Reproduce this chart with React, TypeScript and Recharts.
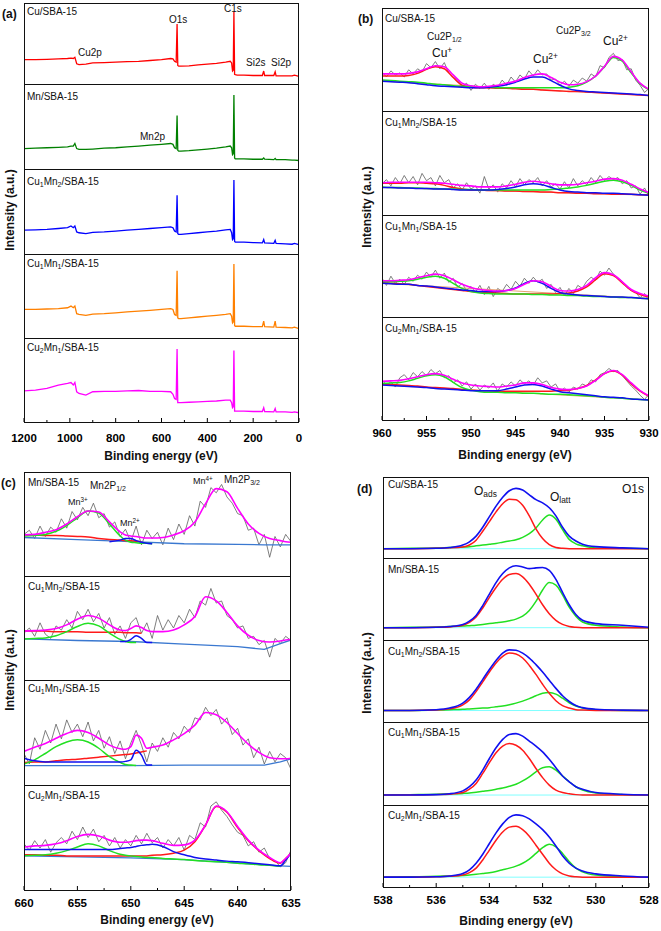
import React from 'react';
import { LineChart, Line, XAxis, YAxis } from 'recharts';

const FONT = '"Liberation Sans", Arial, sans-serif';
const AXIS_H = 30;
const TICK_GAP = 2;
const PAD = 18;

// ---------- (a) survey spectra ----------
const surveyX = [1200, 1150, 1100, 1050, 1010, 995, 985, 978, 970, 960, 930, 900, 850, 800, 750, 700, 650, 600, 560, 550, 543, 536, 532, 529, 525, 515, 480, 440, 400, 360, 320, 300, 294, 290, 287, 284, 281, 278, 270, 240, 200, 160, 154, 150, 110, 104, 100, 60, 30, 20, 0];
const surveyCu = [30, 30, 30.5, 31, 31.5, 32, 31.5, 33, 25, 24, 24.5, 26, 26.5, 27, 27.5, 28, 29, 30, 31.5, 31, 28, 27, 74, 23, 22, 22, 22.5, 23.5, 24.5, 25.5, 27, 28, 26, 16, 17, 89, 12, 11.5, 11, 11, 10.5, 10.5, 16, 10.5, 10.5, 15, 10, 10, 10, 11, 9.5];
const surveyMn = [24, 24.5, 25, 25.5, 26, 27, 27, 30, 24, 23, 23, 23.5, 24.5, 25, 26, 27, 28, 29, 30, 29, 25, 24, 63, 22, 21, 21, 21.5, 22.5, 23.5, 24.5, 26, 27, 25, 17, 18, 87, 13, 12, 12, 12, 11.5, 11.5, 13, 11.5, 11, 12.5, 11, 11, 10.5, 10.5, 10];
const surveyCu1Mn2 = [28, 28.5, 29, 30, 31, 33, 31, 33, 26, 25, 24, 25.5, 26, 27, 28, 29, 30, 31, 32, 31, 27, 26, 69, 24, 23, 23, 24, 25, 26, 27, 28.5, 29, 25, 17, 18, 87, 15, 14, 14, 14, 13.5, 13, 17, 13, 12.5, 16, 12.5, 12, 11.5, 12.5, 11];
const surveyCu1Mn1 = [34, 34, 34.5, 35, 36, 38, 36, 38, 29, 28, 27, 28.5, 29, 30, 31, 32, 33, 34, 35, 34, 28, 27, 80, 24, 23, 23, 24, 25, 26, 27, 28, 29, 26, 18, 19, 88, 15, 14, 14, 14, 13.5, 13.5, 20, 13.5, 13, 20, 13, 12.5, 12, 13, 11];
const surveyCu2Mn1 = [37, 38, 40, 44, 46, 47, 44, 47, 36, 34, 32, 36, 36.5, 36.5, 37, 37.5, 36.5, 36.5, 36, 33, 28, 27, 87, 23, 23, 23, 23.5, 24, 24.5, 25, 26, 26, 23, 17, 18, 85, 13, 13, 13, 13, 12.5, 12.5, 17, 12.5, 12, 16, 12, 12, 11.5, 12, 11];
const surveyTicks = [0, 100, 200, 300, 400, 500, 600, 700, 800, 900, 1000, 1100, 1200];
const surveyMajors = [0, 200, 400, 600, 800, 1000, 1200];

// ---------- (b) Cu 2p ----------
const cuFitX = [960, 959, 958, 957, 956, 955, 954, 953, 952, 951, 950, 949, 948, 947, 946, 945, 944, 943, 942, 941, 940, 939, 938, 937, 936, 935, 934, 933, 932, 931, 930];
const cuRawX = [960, 959.5, 959, 958.5, 958, 957.5, 957, 956.5, 956, 955.5, 955, 954.5, 954, 953.5, 953, 952.5, 952, 951.5, 951, 950.5, 950, 949.5, 949, 948.5, 948, 947.5, 947, 946.5, 946, 945.5, 945, 944.5, 944, 943.5, 943, 942.5, 942, 941.5, 941, 940.5, 940, 939.5, 939, 938.5, 938, 937.5, 937, 936.5, 936, 935.5, 935, 934.5, 934, 933.5, 933, 932.5, 932, 931.5, 931, 930.5, 930];
const cuBaseX = [960, 930];

const cuRaw1 = [38, 33, 39, 35, 37, 33, 40, 36, 41, 38, 46, 42, 48, 41, 47, 37, 33, 30, 24, 27, 20, 26, 22, 27, 21, 26, 23, 30, 25, 33, 28, 35, 31, 39, 34, 40, 35, 36, 30, 31, 25, 29, 24, 30, 27, 32, 29, 36, 33, 44, 42, 52, 56, 49, 50, 40, 41, 30, 25, 18, 22];
const cuPink1 = [36, 36, 36, 36.5, 38, 41, 44, 43, 35, 27, 24.5, 23.5, 24, 25, 27, 29, 32.5, 35, 36, 32.5, 28, 25.5, 26, 28.5, 34, 43.5, 53, 49.5, 38, 27, 21];
const cuRed1 = [34, 34, 34, 34.5, 36.5, 40.5, 43, 41, 32.5, 25, 23, 22.5, 22.5, 22, 22, 21.5, 21, 21, 20.5, 20, 19.5, 19, 19, 18.5, 18, 17.5, 17, 16.5, 16, 15.5, 15];
const cuGreen1 = [30, 29.5, 29, 28.5, 28, 27, 26, 25.5, 24.5, 24, 23.5, 23, 23, 22.5, 22.5, 22.5, 22.5, 22.5, 22.5, 22.5, 22.5, 23, 24.5, 28, 34, 43, 52, 48.5, 37, 26.5, 20.5];
const cuBlue1 = [29, 28.5, 28, 27.5, 26.5, 25.5, 24.5, 24, 23.5, 23, 22.5, 22.5, 23, 24, 25.5, 28, 31, 33, 33, 29.5, 25, 21.5, 20, 19, 18.5, 18, 17.5, 17, 16.5, 16, 15];
const cuBase1 = [29, 15];

const cuRaw2 = [30, 34, 28, 36, 30, 38, 31, 37, 29, 40, 33, 36, 28, 38, 31, 34, 26, 30, 24, 31, 25, 28, 21, 37, 25, 29, 22, 30, 26, 33, 27, 35, 29, 34, 31, 36, 28, 33, 27, 30, 25, 32, 26, 35, 28, 33, 29, 36, 31, 38, 33, 37, 34, 36, 30, 33, 26, 28, 20, 26, 18];
const cuPink2 = [31, 31.5, 31.5, 31.5, 31.5, 31.5, 31, 30.5, 29.5, 28.5, 28, 27, 27, 27, 28, 29.5, 31.5, 32.5, 31.5, 30, 29, 29, 29.5, 31, 32.5, 34.5, 35, 33.5, 29.5, 25, 21.5];
const cuRed2 = [30.5, 30.5, 30.5, 31, 31, 30.5, 30, 28.5, 26.5, 25, 24, 24, 23.5, 23.5, 23, 23, 22.5, 22.5, 22, 22, 21.5, 21.5, 21, 21, 20.5, 20.5, 20, 20, 20, 19.5, 19.5];
const cuGreen2 = [27, 26.5, 26.5, 26, 26, 25.5, 25.5, 25, 25, 24.5, 24.5, 24, 24, 24, 24, 24, 24, 24, 24, 24.5, 25, 26, 27, 28.5, 30.5, 32.5, 33.5, 32, 28.5, 24, 21];
const cuBlue2 = [26.5, 26.5, 26, 26, 25.5, 25.5, 25, 25, 24.5, 24, 24, 24, 24, 24.5, 25.5, 27, 29, 30, 29, 26.5, 24, 22.5, 22, 21.5, 21.5, 21, 21, 20.5, 20, 19.5, 19];
const cuBase2 = [26.5, 19];

const cuRaw3 = [38, 31, 40, 33, 37, 32, 39, 35, 41, 37, 44, 39, 46, 38, 43, 34, 38, 29, 33, 26, 30, 24, 31, 22, 30, 20, 28, 25, 32, 27, 35, 30, 38, 33, 39, 34, 37, 28, 32, 24, 29, 21, 28, 23, 31, 28, 35, 39, 36, 45, 41, 48, 42, 38, 35, 29, 26, 24, 19, 23, 16];
const cuPink3 = [35.5, 35.5, 36, 36.5, 38.5, 40.5, 42, 40.5, 36.5, 32, 29, 27, 26, 25.5, 26, 28, 32, 35.5, 34.5, 30, 26, 25.5, 27, 31, 38.5, 43.5, 41.5, 34.5, 27, 23, 20.5];
const cuRed3 = [33.5, 33, 32.5, 32, 31, 30, 29, 28, 27, 26, 25, 24.5, 24, 23.5, 23, 22.5, 22.5, 22.5, 22.5, 22.5, 23, 23.5, 25.5, 29.5, 36.5, 42.5, 40.5, 33.5, 26, 22, 19.5];
const cuGreen3 = [34.5, 34.5, 35, 35.5, 37, 39, 40, 38, 33, 28, 25, 23.5, 23, 22.5, 22.5, 22.5, 22.5, 22, 22, 21.5, 21.5, 21, 21, 20.5, 20, 20, 19.5, 19, 19, 18.5, 18];
const cuBlue3 = [33, 32.5, 32, 32, 31, 30.5, 29.5, 28.5, 27.5, 26.5, 26, 25, 25, 25, 26, 28.5, 33, 35.5, 33, 28, 24, 22.5, 21.5, 21, 20.5, 20, 19.5, 19.5, 19, 18.5, 18];
const cuBase3 = [33, 18];

const cuRaw4 = [39, 34, 37, 32, 41, 44, 39, 46, 42, 47, 43, 49, 45, 48, 41, 43, 36, 39, 33, 37, 30, 35, 29, 34, 31, 36, 28, 35, 32, 37, 33, 39, 35, 38, 34, 41, 36, 38, 32, 35, 28, 31, 27, 32, 30, 35, 33, 39, 37, 44, 46, 50, 47, 48, 43, 38, 33, 29, 24, 20, 25];
const cuPink4 = [37.5, 38, 38.5, 40, 42, 44, 45, 43.5, 39.5, 36, 34, 33, 32.5, 32, 33, 34, 36, 36, 34.5, 31.5, 30, 29.5, 30.5, 33, 38.5, 45, 48, 44, 36, 28.5, 23.5];
const cuRed4 = [35, 34.5, 34, 33.5, 33, 32, 31.5, 31, 30.5, 29.5, 29, 28.5, 28.5, 28, 28, 28, 28, 28, 28, 28, 28.5, 29, 30.5, 33.5, 39, 45, 47.5, 43.5, 35, 28, 23];
const cuGreen4 = [35.5, 36, 36.5, 38, 40.5, 43, 44, 42, 36.5, 31.5, 29, 27.5, 27, 27, 26.5, 26.5, 26, 26, 25.5, 25, 25, 24.5, 24, 23.5, 23, 22, 21.5, 21, 20.5, 20, 19.5];
const cuBlue4 = [34, 33.5, 33, 32.5, 32, 31.5, 30.5, 30, 29.5, 29, 28.5, 28.5, 28.5, 28.5, 30, 32, 34, 34.5, 33, 30, 27.5, 26.5, 25.5, 24.5, 23.5, 22.5, 22, 21.5, 20.5, 20, 19.5];
const cuBase4 = [34, 19.5];

const cuTicks = [930, 932.5, 935, 937.5, 940, 942.5, 945, 947.5, 950, 952.5, 955, 957.5, 960];
const cuMajors = [930, 935, 940, 945, 950, 955, 960];

// ---------- (c) Mn 2p ----------
const mnFitX = [660, 659, 658, 657, 656, 655, 654, 653, 652, 651, 650.5, 650, 649.5, 649, 648.5, 648, 647, 646, 645, 644, 643, 642, 641, 640, 639, 638, 637, 636, 635.5, 635];
const mnRawX = [660, 659.5, 659, 658.5, 658, 657.5, 657, 656.5, 656, 655.5, 655, 654.5, 654, 653.5, 653, 652.5, 652, 651.5, 651, 650.5, 650, 649.5, 649, 648.5, 648, 647.5, 647, 646.5, 646, 645.5, 645, 644.5, 644, 643.5, 643, 642.5, 642, 641.5, 641, 640.5, 640, 639.5, 639, 638.5, 638, 637.5, 637, 636.5, 636, 635.5, 635];
const mnBaseX = [660, 655, 650, 645, 640, 637.5, 636, 635];
const _ = null;

const mnRaw1 = [40, 44, 36, 48, 38, 47, 42, 55, 46, 62, 54, 66, 58, 70, 56, 60, 47, 52, 38, 45, 33, 48, 30, 44, 36, 42, 30, 46, 35, 50, 40, 58, 48, 72, 66, 85, 80, 88, 76, 70, 60, 58, 44, 46, 30, 40, 18, 38, 28, 40, 33];
const mnPink1 = [39.5, 40, 42, 44.5, 50, 57, 62.5, 61.5, 52, 42.5, 39.5, 38.5, 38, 37, 36.5, 36.5, 37, 39.5, 43.5, 52, 69.5, 84, 81, 65, 50, 41, 36, 34, 33, 32.5];
const mnGreen1 = [38.5, 39, 40, 43, 48.5, 56, 62.5, 60.5, 50, 38.5, 34.5, 32.5, 32, 31.5, 31.5, 31, _, _, _, _, _, _, _, _, _, _, _, _, _, _];
const mnRed1 = [39.5, 39.5, 39, 39, 38.5, 38, 37.5, 36, 35, 34.5, 34, 34, 33.5, 33, _, _, _, _, _, _, _, _, _, _, _, _, _, _, _, _];
const mnBlue1 = [_, _, _, _, _, _, _, _, 33, 34.5, 36, 36, 34, 32.5, 31.5, 31, _, _, _, _, _, _, _, _, _, _, _, _, _, _];
const mnBase1 = [37, 35, 33, 31, 30.5, 30, 30, 30];

const mnRaw2 = [45, 50, 42, 55, 44, 40, 52, 48, 58, 50, 66, 58, 68, 56, 64, 50, 60, 44, 52, 40, 55, 60, 45, 55, 40, 62, 48, 58, 50, 62, 55, 68, 60, 76, 72, 88, 74, 76, 62, 58, 50, 52, 40, 42, 34, 38, 22, 40, 35, 42, 38];
const mnPink2 = [47, 47.5, 48, 49.5, 53, 58.5, 62, 59.5, 53, 48, 47.5, 49.5, 52, 50.5, 47.5, 46.5, 46.5, 48, 53, 61, 80, 76, 65, 52, 43, 38, 36.5, 37.5, 38.5, 39];
const mnGreen2 = [39.5, 40, 40.5, 42.5, 46.5, 51.5, 54.5, 52, 45, 39, 37, 36, 36, _, _, _, _, _, _, _, _, _, _, _, _, _, _, _, _, _];
const mnRed2 = [47, 47, 47, 46.5, 46.5, 46.5, 46, 46, 46, 46, 45.5, 45.5, 45.5, 45, _, _, _, _, _, _, _, _, _, _, _, _, _, _, _, _];
const mnBlue2 = [_, _, _, _, _, _, _, _, _, 37, 37, 39, 42.5, 40, 36, 36, _, _, _, _, _, _, _, _, _, _, _, _, _, _];
const mnBase2 = [39.5, 38, 37, 34.5, 32, 29.5, 35, 38.5];

const mnRaw3 = [30, 20, 45, 34, 52, 40, 58, 44, 62, 50, 58, 46, 60, 42, 52, 35, 46, 30, 42, 25, 40, 52, 38, 22, 40, 32, 45, 36, 50, 44, 56, 50, 64, 62, 74, 66, 72, 58, 64, 48, 54, 38, 44, 26, 36, 20, 32, 22, 30, 26, 15];
const mnPink3 = [32, 36, 39.5, 44.5, 49, 52, 50, 44.5, 38, 34.5, 34, 36.5, 47.5, 44.5, 35, 36, 38, 43, 49, 57, 69, 67, 59.5, 49, 39, 31, 26, 25, 25, 25.5];
const mnGreen3 = [20, 24, 30, 36.5, 41, 43, 41, 35, 27, 21.5, 19.5, 19, 18.5, _, _, _, _, _, _, _, _, _, _, _, _, _, _, _, _, _];
const mnRed3 = [21.5, 21.8, 22, 23, 24, 24.5, 25.5, 26.5, 27.5, 28.5, 29, 29.5, 30.5, 31.5, 32.5, _, _, _, _, _, _, _, _, _, _, _, _, _, _, _];
const mnBlue3 = [25.5, 23, 22, 22, 22, 22, 22, 22, 22, 22, 22.5, 24, 33, 28.5, 19, 19, _, _, _, _, _, _, _, _, _, _, _, _, _, _];
const mnBase3 = [18.5, 18.5, 18.5, 19, 19, 19, 22, 25];

const mnRaw4 = [44, 38, 47, 40, 48, 36, 45, 50, 44, 56, 48, 60, 50, 58, 46, 52, 42, 50, 40, 48, 42, 52, 44, 54, 45, 50, 40, 48, 42, 50, 38, 52, 48, 64, 60, 80, 84, 76, 70, 62, 55, 52, 42, 46, 36, 40, 30, 28, 22, 26, 38];
const mnPink4 = [41, 42, 42.5, 44, 47, 51, 53, 51.5, 47.5, 45.5, 45.5, 46, 47, 47.5, 47.5, 47, 44.5, 42.5, 43, 47.5, 62, 80, 74.5, 60.5, 47.5, 38, 31, 26, 30, 35];
const mnGreen4 = [32.5, 33, 33.5, 35, 37.5, 41, 44, 42, 37.5, 34, 33, 32.5, 32, 31.5, 31, 31, 30, 29.5, 29, 28, 27.5, 27, 26.5, 25.5, 25, 24, 23.5, 22.5, _, _];
const mnRed4 = [33.5, 33.5, 33, 33, 32.5, 32.5, 32.5, 32.5, 32.5, 32.5, 32.5, 32.5, 32.5, 32.5, 32.5, 33, 33.5, 35, 38, 46, 62, 79.5, 74, 59.5, 47, 37.5, 30, 25.5, 30, 35];
const mnBlue4 = [38.5, 38.5, 38.5, 38.5, 38.5, 38.5, 38.5, 38.5, 38.5, 39.5, 40, 40.5, 41.5, 42.5, 43, 43.5, 41.5, 36.5, 33.5, 31, 29.5, 28.5, 27.5, 27, 26, 25, 24, 23, 28.5, 35];
const mnBase4 = [32.5, 31.5, 30.5, 29, 25.5, 24, 23, 22.5];

const mnTicks = [635, 637.5, 640, 642.5, 645, 647.5, 650, 652.5, 655, 657.5, 660];
const mnMajors = [635, 640, 645, 650, 655, 660];

// ---------- (d) O 1s ----------
const oX = [538, 537, 536, 535.5, 535, 534.75, 534.5, 534.25, 534, 533.75, 533.5, 533.25, 533, 532.75, 532.5, 532.25, 532, 531.75, 531.5, 531.25, 531, 530.75, 530.5, 530, 529, 528];
const oBaseX = [538, 528];

const oBlue1 = [11.5, 11.5, 12, 13, 16, 20, 27, 38, 51, 64, 75, 83, 86, 84, 78, 72, 68, 62, 52, 38, 27, 21, 17, 14, 12.5, 11.5];
const oRed1 = [11.5, 11.5, 12, 12.5, 13.5, 16, 22, 33, 45, 57, 67, 72.5, 72, 65, 52, 36, 24, 16.5, 13, 12, 11.5, 11.5, 11.5, 11.5, 11.5, 11.5];
const oGreen1 = [11.5, 12, 12.5, 13, 13.5, 14, 15, 16, 17, 18, 19.5, 21, 22.5, 25.5, 30, 37, 47, 53, 48, 35, 23, 17.5, 15, 12.5, 12, 11.5];
const oBase1 = [11.5, 11.5];

const oBlue2 = [15, 15, 15.5, 16.5, 19, 23, 30, 42, 56, 70, 81, 88, 90.5, 89, 87, 88, 88.5, 85, 74, 58, 43, 31, 24, 20, 18, 15.5];
const oRed2 = [15, 15, 15.5, 16, 18, 21.5, 28, 39, 52, 64, 74, 80, 81, 77, 68, 56, 43, 32, 24, 19, 16.5, 15.5, 15, 15, 15, 15];
const oGreen2 = [15, 15.5, 16, 16.5, 17, 17.5, 18, 19, 20, 21, 22, 23.5, 25.5, 29, 36, 47, 61, 70, 67, 55, 40, 29, 22, 18, 16, 15];
const oBase2 = [15, 15];

const oBlue3 = [14, 14, 15, 17, 23, 30, 40, 52, 64, 75, 84, 88, 87.5, 84, 78, 70, 61, 51, 41, 32, 25, 20, 17.5, 15.5, 14.5, 14];
const oRed3 = [14, 14, 14.5, 16, 21, 27, 37, 49, 61, 72, 80, 84, 83, 78, 69, 58, 46, 35, 26, 20, 17, 15, 14.5, 14, 14, 14];
const oGreen3 = [14, 14, 14.5, 15, 15.5, 16, 16.5, 17, 17.5, 18.5, 19.5, 21, 23, 25.5, 28.5, 32, 35, 36, 34, 29, 23.5, 19.5, 17, 15, 14, 14];
const oBase3 = [14, 14];

const oBlue4 = [12, 12, 12.5, 13.5, 17, 22, 30, 42, 56, 69, 79, 85, 86, 83, 77, 71, 64, 55, 45, 35, 28, 22, 19, 15, 13, 12];
const oRed4 = [12, 12, 12.5, 13, 15, 19, 26, 38, 51, 63, 71, 74, 72, 66, 56, 44, 33, 24, 18, 15, 13.5, 12.5, 12, 12, 12, 12];
const oGreen4 = [12, 12.5, 13, 13.5, 14, 14.5, 15.5, 16.5, 17.5, 19, 20.5, 22.5, 25, 29, 34, 40, 45, 46, 42, 35, 28, 22, 18, 14.5, 12.5, 12];
const oBase4 = [12, 12];

const oBlue5 = [12, 12, 12.5, 13.5, 16.5, 21, 29, 40, 53, 66, 77, 85, 88, 87, 83, 77, 70, 61, 50, 38, 29, 23, 19.5, 16, 13.5, 12];
const oRed5 = [12, 12, 12.5, 13, 14.5, 17.5, 23, 33, 45, 57, 67, 73, 74, 70, 62, 51, 40, 29, 21, 16, 13.5, 12.5, 12, 12, 12, 12];
const oGreen5 = [12, 12.5, 13, 13.5, 14, 14.5, 15.5, 16.5, 17.5, 19, 21, 23, 25.5, 29, 34, 41, 48, 52, 49, 41, 31, 23, 18.5, 14.5, 12.5, 12];
const oBase5 = [12, 12];

const oTicks = [528, 529, 530, 531, 532, 533, 534, 535, 536, 537, 538];
const oMajors = [528, 530, 532, 534, 536, 538];

// ---------- drawing ----------
type Ser = { xs: number[]; ys: (number | null)[]; color: string; w: number; curve?: 'linear' | 'monotone' };

const GRAY = '#5e5e5e';
const RED = '#ff1a1a';
const GREEN = '#22e022';
const BLUE = '#1010f0';
const PINK = '#ff00ff';

const pts = (xs: number[], ys: (number | null)[]) => xs.map((x, i) => ({ x, y: ys[i] }));

const cuSub = (raw: number[], base: number[], red: number[], green: number[], blue: number[], pink: number[]): Ser[] => [
  { xs: cuRawX, ys: raw, color: GRAY, w: 0.8, curve: 'linear' },
  { xs: cuBaseX, ys: base, color: '#e8a070', w: 1, curve: 'linear' },
  { xs: cuFitX, ys: red, color: RED, w: 1.5 },
  { xs: cuFitX, ys: green, color: GREEN, w: 1.5 },
  { xs: cuFitX, ys: blue, color: BLUE, w: 1.5 },
  { xs: cuFitX, ys: pink, color: PINK, w: 1.6 },
];

const mnSub = (raw: number[], base: number[], red: (number | null)[], green: (number | null)[], blue: (number | null)[], pink: number[]): Ser[] => [
  { xs: mnRawX, ys: raw, color: GRAY, w: 0.8, curve: 'linear' },
  { xs: mnBaseX, ys: base, color: '#3a78d0', w: 1.3, curve: 'linear' },
  { xs: mnFitX, ys: red, color: RED, w: 1.5 },
  { xs: mnFitX, ys: green, color: GREEN, w: 1.5 },
  { xs: mnFitX, ys: blue, color: BLUE, w: 1.5 },
  { xs: mnFitX, ys: pink, color: PINK, w: 1.6 },
];

const oSub = (base: number[], green: number[], red: number[], blue: number[]): Ser[] => [
  { xs: oBaseX, ys: base, color: '#80ffff', w: 1, curve: 'linear' },
  { xs: oX, ys: green, color: GREEN, w: 1.5 },
  { xs: oX, ys: red, color: RED, w: 1.5 },
  { xs: oX, ys: blue, color: BLUE, w: 1.6 },
];

const surveySub = (ys: number[], color: string): Ser[] => [{ xs: surveyX, ys, color, w: 1.3, curve: 'linear' }];

const axisTick = (majors: number[], labelDy: number) => (props: any) => {
  const { x, y, payload } = props;
  const v = payload.value as number;
  const isMajor = majors.some((m) => Math.abs(m - v) < 1e-6);
  const ay = y - TICK_GAP;
  return (
    <g>
      <line x1={x} x2={x} y1={ay} y2={ay - (isMajor ? 4 : 2)} stroke="#000" strokeWidth={1} />
      {isMajor && (
        <text x={x} y={ay + labelDy} textAnchor="middle" fontSize={11.5} fontWeight="bold" fontFamily={FONT} fill="#000">
          {v}
        </text>
      )}
    </g>
  );
};

type StackProps = {
  left: number;
  width: number;
  bounds: number[];
  domain: [number, number];
  ticks: number[];
  majors: number[];
  labelDy: number;
  subs: Ser[][];
};

function Stack({ left, width, bounds, domain, ticks, majors, labelDy, subs }: StackProps) {
  return (
    <>
      {subs.map((series, i) => {
        const top = bounds[i];
        const h = bounds[i + 1] - bounds[i];
        const last = i === subs.length - 1;
        const fullH = h + (last ? AXIS_H : 0);
        return (
          <div key={i} style={{ position: 'absolute', left: left - PAD, top, width: width + 2 * PAD, height: fullH }}>
            <LineChart width={width + 2 * PAD} height={fullH} margin={{ top: 0, right: PAD, bottom: 0, left: PAD }}>
              <XAxis
                type="number"
                dataKey="x"
                domain={domain}
                reversed
                allowDataOverflow
                hide={!last}
                height={AXIS_H}
                ticks={ticks}
                interval={0}
                tickLine={false}
                axisLine={false}
                tickSize={0}
                tickMargin={TICK_GAP}
                tick={axisTick(majors, labelDy)}
              />
              <YAxis type="number" domain={[0, 100]} hide allowDataOverflow />
              {series.map((s, j) => (
                <Line
                  key={j}
                  data={pts(s.xs, s.ys)}
                  dataKey="y"
                  type={s.curve || 'monotone'}
                  stroke={s.color}
                  strokeWidth={s.w}
                  dot={false}
                  activeDot={false}
                  isAnimationActive={false}
                />
              ))}
            </LineChart>
            <div
              style={{
                position: 'absolute',
                left: PAD,
                top: 0,
                width,
                height: h + 1,
                border: '1px solid #111',
                boxSizing: 'border-box',
                pointerEvents: 'none',
              }}
            />
          </div>
        );
      })}
    </>
  );
}

const T = ({ l, t, s = 10, b = false, children }: { l: number; t: number; s?: number; b?: boolean; children: React.ReactNode }) => (
  <div style={{ position: 'absolute', left: l, top: t, fontSize: s, lineHeight: 1, whiteSpace: 'nowrap', fontWeight: b ? 'bold' : 'normal' }}>
    {children}
  </div>
);

const Sb = ({ children }: { children: React.ReactNode }) => (
  <span style={{ fontSize: '0.7em', verticalAlign: '-0.25em' }}>{children}</span>
);
const Sp = ({ children }: { children: React.ReactNode }) => (
  <span style={{ fontSize: '0.7em', verticalAlign: '0.5em' }}>{children}</span>
);

const YTitle = ({ x, y }: { x: number; y: number }) => (
  <div
    style={{
      position: 'absolute',
      left: x,
      top: y,
      transform: 'translate(-50%, -50%) rotate(-90deg)',
      fontSize: 12,
      fontWeight: 'bold',
      whiteSpace: 'nowrap',
    }}
  >
    Intensity (a.u.)
  </div>
);

const XTitle = ({ x, y }: { x: number; y: number }) => (
  <div style={{ position: 'absolute', left: x, top: y, transform: 'translate(-50%, -50%)', fontSize: 12, fontWeight: 'bold', whiteSpace: 'nowrap' }}>
    Binding energy (eV)
  </div>
);

const CuMn = (a: string, b: string) => (
  <>
    Cu<Sb>{a}</Sb>Mn<Sb>{b}</Sb>/SBA-15
  </>
);

export default function App() {
  return (
    <div style={{ position: 'absolute', left: 0, top: 0, width: 661, height: 931, overflow: 'hidden', background: '#fff', fontFamily: FONT, color: '#111' }}>
      {/* (a) */}
      <Stack
        left={24}
        width={275}
        bounds={[3, 84, 169, 254, 338, 422]}
        domain={[0, 1200]}
        ticks={surveyTicks}
        majors={surveyMajors}
        labelDy={20}
        subs={[
          surveySub(surveyCu, '#ff0000'),
          surveySub(surveyMn, '#008000'),
          surveySub(surveyCu1Mn2, '#0000ff'),
          surveySub(surveyCu1Mn1, '#ff8000'),
          surveySub(surveyCu2Mn1, '#ff00ff'),
        ]}
      />
      <T l={2} t={8} s={12} b>(a)</T>
      <T l={27} t={7}>Cu/SBA-15</T>
      <T l={27} t={92}>Mn/SBA-15</T>
      <T l={27} t={177}>{CuMn('1', '2')}</T>
      <T l={27} t={259}>{CuMn('1', '1')}</T>
      <T l={27} t={343}>{CuMn('2', '1')}</T>
      <T l={78} t={48}>Cu2p</T>
      <T l={169} t={15}>O1s</T>
      <T l={224} t={4}>C1s</T>
      <T l={246} t={58}>Si2s</T>
      <T l={271} t={58}>Si2p</T>
      <T l={140} t={132}>Mn2p</T>
      <YTitle x={10} y={210} />
      <XTitle x={161} y={456} />

      {/* (b) */}
      <Stack
        left={382}
        width={267}
        bounds={[8, 111, 215, 317, 420]}
        domain={[930, 960]}
        ticks={cuTicks}
        majors={cuMajors}
        labelDy={17}
        subs={[
          cuSub(cuRaw1, cuBase1, cuRed1, cuGreen1, cuBlue1, cuPink1),
          cuSub(cuRaw2, cuBase2, cuRed2, cuGreen2, cuBlue2, cuPink2),
          cuSub(cuRaw3, cuBase3, cuRed3, cuGreen3, cuBlue3, cuPink3),
          cuSub(cuRaw4, cuBase4, cuRed4, cuGreen4, cuBlue4, cuPink4),
        ]}
      />
      <T l={358} t={13} s={12} b>(b)</T>
      <T l={385} t={14}>Cu/SBA-15</T>
      <T l={385} t={118}>{CuMn('1', '2')}</T>
      <T l={385} t={222}>{CuMn('1', '1')}</T>
      <T l={385} t={324}>{CuMn('2', '1')}</T>
      <T l={427} t={32}>Cu2P<Sb>1/2</Sb></T>
      <T l={432} t={46} s={12}>Cu<Sp>+</Sp></T>
      <T l={533} t={52} s={12}>Cu<Sp>2+</Sp></T>
      <T l={556} t={26}>Cu2P<Sb>3/2</Sb></T>
      <T l={603} t={34} s={12}>Cu<Sp>2+</Sp></T>
      <YTitle x={367} y={207} />
      <XTitle x={515} y={455} />

      {/* (c) */}
      <Stack
        left={24}
        width={267}
        bounds={[472, 576, 680, 785, 890]}
        domain={[635, 660]}
        ticks={mnTicks}
        majors={mnMajors}
        labelDy={17}
        subs={[
          mnSub(mnRaw1, mnBase1, mnRed1, mnGreen1, mnBlue1, mnPink1),
          mnSub(mnRaw2, mnBase2, mnRed2, mnGreen2, mnBlue2, mnPink2),
          mnSub(mnRaw3, mnBase3, mnRed3, mnGreen3, mnBlue3, mnPink3),
          mnSub(mnRaw4, mnBase4, mnRed4, mnGreen4, mnBlue4, mnPink4),
        ]}
      />
      <T l={1} t={477} s={12} b>(c)</T>
      <T l={28} t={478}>Mn/SBA-15</T>
      <T l={28} t={582}>{CuMn('1', '2')}</T>
      <T l={28} t={684}>{CuMn('1', '1')}</T>
      <T l={28} t={791}>{CuMn('2', '1')}</T>
      <T l={90} t={481}>Mn2P<Sb>1/2</Sb></T>
      <T l={68} t={497} s={9}>Mn<Sp>3+</Sp></T>
      <T l={120} t={518} s={9}>Mn<Sp>2+</Sp></T>
      <T l={193} t={476} s={9}>Mn<Sp>4+</Sp></T>
      <T l={224} t={475}>Mn2P<Sb>3/2</Sb></T>
      <YTitle x={10} y={670} />
      <XTitle x={157} y={920} />

      {/* (d) */}
      <Stack
        left={383}
        width={266}
        bounds={[477, 558, 640, 722, 805, 887]}
        domain={[528, 538]}
        ticks={oTicks}
        majors={oMajors}
        labelDy={17}
        subs={[
          oSub(oBase1, oGreen1, oRed1, oBlue1),
          oSub(oBase2, oGreen2, oRed2, oBlue2),
          oSub(oBase3, oGreen3, oRed3, oBlue3),
          oSub(oBase4, oGreen4, oRed4, oBlue4),
          oSub(oBase5, oGreen5, oRed5, oBlue5),
        ]}
      />
      <T l={357} t={483} s={12} b>(d)</T>
      <T l={388} t={480}>Cu/SBA-15</T>
      <T l={388} t={565}>Mn/SBA-15</T>
      <T l={388} t={647}>{CuMn('1', '2')}</T>
      <T l={388} t={728}>{CuMn('1', '1')}</T>
      <T l={388} t={811}>{CuMn('2', '1')}</T>
      <T l={474} t={485} s={12}>O<Sb>ads</Sb></T>
      <T l={550} t={491} s={12}>O<Sb>latt</Sb></T>
      <T l={622} t={483} s={12}>O1s</T>
      <YTitle x={367} y={673} />
      <XTitle x={516} y={921} />
    </div>
  );
}
